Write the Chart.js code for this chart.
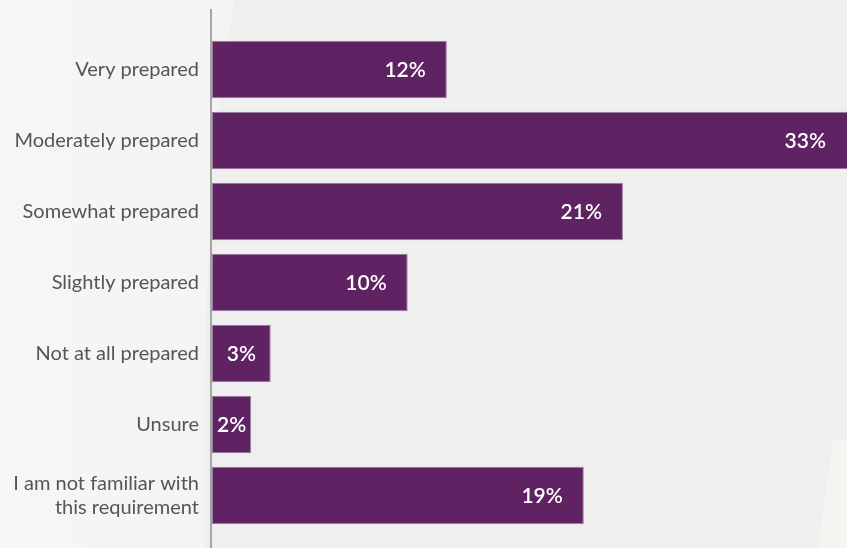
<!DOCTYPE html>
<html><head><meta charset="utf-8">
<script src="https://cdn.jsdelivr.net/npm/chart.js@4"></script>
<style>html,body{margin:0;padding:0;background:#efefef;}#wrap{width:847px;height:548px;position:relative;}</style>
</head><body><div id="wrap"><canvas id="c"></canvas></div>
<script>
const categories = ["Very prepared","Moderately prepared","Somewhat prepared","Slightly prepared","Not at all prepared","Unsure",["I am not familiar with","this requirement"]];
const values = [12,33,21,10,3,2,19];
const valueLabels = ["12%","33%","21%","10%","3%","2%","19%"];

const bgPlugin = {
  id:'bg',
  beforeDraw(chart){
    const ctx = chart.ctx, w = chart.width, h = chart.height;
    ctx.save();
    ctx.fillStyle = '#efefef'; ctx.fillRect(0,0,w,h);
    const g = ctx.createLinearGradient(0,0,220,0);
    g.addColorStop(0,'#f6f6f6'); g.addColorStop(1,'#f4f4f4');
    ctx.fillStyle = g;
    ctx.beginPath(); ctx.moveTo(0,0); ctx.lineTo(235,0);
    ctx.bezierCurveTo(212,120,202,300,204,h); ctx.lineTo(0,h); ctx.closePath(); ctx.fill();
    ctx.fillStyle = '#f5f4f1';
    ctx.beginPath(); ctx.moveTo(w,440); ctx.lineTo(w,h); ctx.lineTo(818,h); ctx.lineTo(833,440); ctx.closePath(); ctx.fill();
    ctx.restore();
  },
  afterDatasetsDraw(chart){
    const ctx = chart.ctx, area = chart.chartArea;
    const meta = chart.getDatasetMeta(0);
    ctx.save();
    ctx.font = '600 21px Lato, "Source Sans Pro", sans-serif';
    ctx.fillStyle = '#ffffff';
    ctx.textBaseline = 'middle';
    meta.data.forEach((bar,i)=>{
      const txt = valueLabels[i];
      const tw = ctx.measureText(txt).width;
      const start = bar.base, end = Math.min(bar.x, area.right);
      let x;
      if (end - start - 40 < tw) { ctx.textAlign='center'; x=(start+end)/2; }
      else { ctx.textAlign='right'; x=end-21; }
      ctx.fillText(txt, x, bar.y+1);
    });
    const x0 = chart.scales.x.getPixelForValue(0);
    ctx.strokeStyle = '#a6a6a6'; ctx.lineWidth = 2;
    ctx.beginPath(); ctx.moveTo(x0-1, 9); ctx.lineTo(x0-1, chart.height); ctx.stroke();
    ctx.restore();
  }
};

new Chart(document.getElementById('c'), {
  type:'bar',
  data:{labels:categories, datasets:[{data:values, backgroundColor:'#5f2363', borderColor:'#9a7f9c', borderWidth:1, borderSkipped:false, barPercentage:0.81, categoryPercentage:1}]},
  options:{
    indexAxis:'y', responsive:true, maintainAspectRatio:false, animation:false,
    layout:{padding:{top:34,bottom:17,left:0,right:0}},
    plugins:{legend:{display:false}, tooltip:{enabled:false}},
    scales:{
      x:{min:0,max:32.45,display:false,grid:{display:false}},
      y:{grid:{display:false,drawTicks:false}, border:{display:false},
         ticks:{color:'#555555', padding:13, font:{family:'Lato, "Source Sans Pro", sans-serif', size:20}},
         afterFit(s){ s.width = 212; s.paddingTop = 0; s.paddingBottom = 0; }}
    }
  },
  plugins:[bgPlugin]
});
</script></body></html>
